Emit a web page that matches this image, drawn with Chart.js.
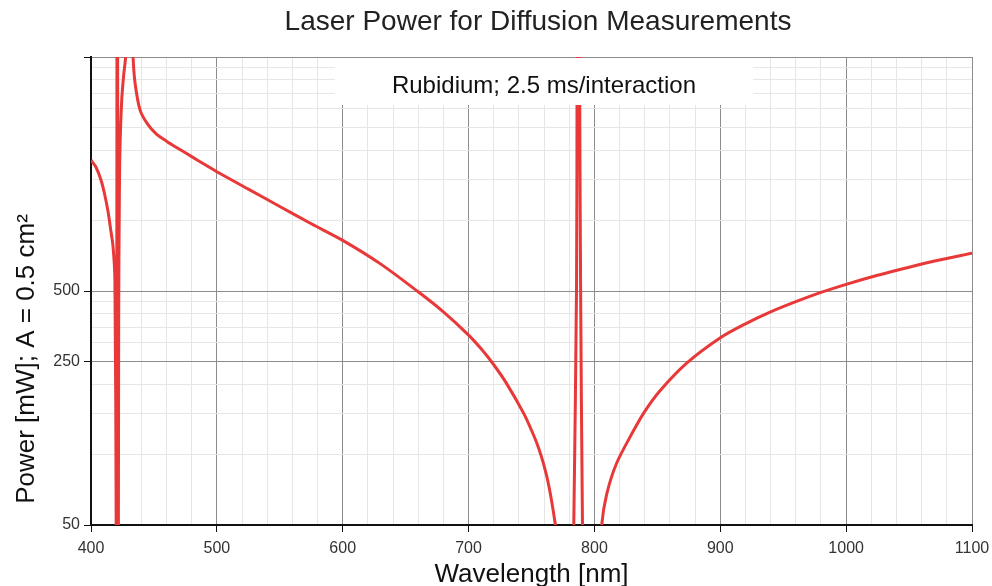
<!DOCTYPE html>
<html>
<head>
<meta charset="utf-8">
<title>Laser Power for Diffusion Measurements</title>
<script src="https://cdn.jsdelivr.net/npm/chart.js@4.4.1/dist/chart.umd.min.js"></script>
<style>
    html, body { margin: 0; padding: 0; background: #fff; }
    #wrap { position: relative; width: 992px; height: 586px; }
</style>
</head>
<body>
<div id="wrap"><canvas id="powerChart"></canvas></div>
<script>
// Wavelength [nm] and required power [mW].
// Values below 50 or above 5000 run off the plot and get clipped.
const wavelengths = [400, 404, 408, 411, 413.5, 415.5, 417.5, 419, 420, 420.3,
    420.9, 421.5, 422, 422.5, 423, 424.4, 426, 427.5, 429, 430.5,
    432, 433.4, 435, 439, 445, 452, 460, 470, 480, 490,
    500, 525, 550, 575, 600, 630, 660, 680, 700, 710,
    720, 730, 743.8, 750, 755, 759.7, 764, 769, 772, 776,
    781, 783.6, 785.8, 786.2, 787.2, 788.2, 789, 790.5, 793, 797,
    803, 805.8, 809.7, 817.7, 830.9, 840, 852.1, 873.3, 899.8, 920,
    940, 960, 980, 1000, 1025, 1050, 1075, 1100];
const powers = [1811, 1690, 1486, 1283, 1095, 926, 775, 555, 50, 5,
    1e6, 5, 400, 1200, 2000, 3270, 4200, 5000, 8000, 1e5,
    8000, 5000, 3870, 2965, 2582, 2340, 2184, 2022, 1876, 1741,
    1617, 1363, 1149, 969, 823, 653, 496, 407, 324, 283,
    242, 202, 150, 127, 109, 90.7, 72.5, 50, 37, 10,
    5, 50, 538, 5000, 1e6, 5000, 538, 50, 5, 3,
    25, 50, 67.6, 92, 126, 153, 187.5, 246, 315, 362,
    407, 450, 493, 534, 584, 632, 680, 726];

// Axis ticks
const xTickValues = [];
for (let v = 400; v <= 1100; v += 20) xTickValues.push(v);
const xLabelValues = [400, 500, 600, 700, 800, 900, 1000, 1100];
const yTickValues = [50, 100, 150, 200, 250, 300, 350, 400, 450, 500,
    1000, 1500, 2000, 2500, 3000, 3500, 4000, 4500, 5000];
const yLabelValues = [50, 250, 500];
const yMajorValues = [50, 250, 500, 5000];

const chartTitle = 'Laser Power for Diffusion Measurements';
const boxText = 'Rubidium; 2.5 ms/interaction';
const xTitle = 'Wavelength [nm]';
const yTitle = 'Power [mW]; A = 0.5 cm\u00B2';

const FONT = "'Liberation Sans', Arial, sans-serif";
const MAJOR_GRID = '#8c8c8c';
const MINOR_GRID = '#e6e6e6';

// Title, white label box at the top of the plot, rotated y title
const extraText = {
    id: 'extraText',
    afterDatasetsDraw(chart) {
        const { ctx, chartArea } = chart;
        ctx.save();
        ctx.fillStyle = '#fff';
        ctx.fillRect(chartArea.left + 244, chartArea.top + 1, 418, 47);
        ctx.fillStyle = '#111';
        ctx.font = '24px ' + FONT;
        ctx.textAlign = 'center';
        ctx.textBaseline = 'alphabetic';
        ctx.fillText(boxText, chartArea.left + 453, chartArea.top + 36);
        ctx.restore();
    },
    afterDraw(chart) {
        const ctx = chart.ctx;
        ctx.save();
        ctx.fillStyle = '#222';
        ctx.font = '28px ' + FONT;
        ctx.textAlign = 'center';
        ctx.textBaseline = 'alphabetic';
        ctx.fillText(chartTitle, 538, 30);

        ctx.translate(27, 359);
        ctx.rotate(-Math.PI / 2);
        ctx.fillStyle = '#111';
        ctx.font = '26px ' + FONT;
        ctx.textBaseline = 'middle';
        ctx.fillText(yTitle, 0, 0);
        ctx.restore();
    }
};

const ctx = document.getElementById('powerChart');

new Chart(ctx, {
    type: 'line',
    data: {
        datasets: [{
            data: wavelengths.map((w, i) => ({ x: w, y: powers[i] })),
            borderColor: 'rgb(232, 56, 56)',
            borderWidth: 3,
            pointRadius: 0,
            tension: 0.3,
            clip: 0
        }]
    },
    options: {
        responsive: true,
        maintainAspectRatio: false,
        animation: false,
        layout: {
            padding: { left: 0, right: 20, top: 57, bottom: 0 }
        },
        plugins: {
            legend: { display: false },
            tooltip: { enabled: false },
            title: { display: false }
        },
        scales: {
            x: {
                type: 'linear',
                min: 400,
                max: 1100,
                afterBuildTicks: s => { s.ticks = xTickValues.map(v => ({ value: v })); },
                afterFit: s => { s.height = 61; s.paddingLeft = 0; s.paddingRight = 0; },
                ticks: {
                    autoSkip: false,
                    maxRotation: 0,
                    padding: 7,
                    color: '#333',
                    font: { family: FONT, size: 16 },
                    callback: v => xLabelValues.includes(v) ? String(v) : ''
                },
                grid: {
                    color: c => c.tick && xLabelValues.includes(c.tick.value) ? MAJOR_GRID : MINOR_GRID,
                    tickColor: c => c.tick && xLabelValues.includes(c.tick.value) ? '#111' : 'rgba(0,0,0,0)',
                    tickLength: 7,
                    lineWidth: 1
                },
                border: { color: '#111', width: 2 },
                title: {
                    display: true,
                    text: xTitle,
                    color: '#111',
                    font: { family: FONT, size: 26, lineHeight: 0.85 },
                    padding: 0
                }
            },
            y: {
                type: 'logarithmic',
                min: 50,
                max: 5000,
                afterBuildTicks: s => { s.ticks = yTickValues.map(v => ({ value: v })); },
                afterFit: s => { s.width = 91; s.paddingTop = 0; s.paddingBottom = 0; },
                ticks: {
                    autoSkip: false,
                    padding: 4,
                    color: '#333',
                    font: { family: FONT, size: 16 },
                    callback: v => yLabelValues.includes(v) ? String(v) : ''
                },
                grid: {
                    color: c => c.tick && yMajorValues.includes(c.tick.value) ? MAJOR_GRID : MINOR_GRID,
                    tickColor: c => c.tick && yMajorValues.includes(c.tick.value) ? '#111' : 'rgba(0,0,0,0)',
                    tickLength: 7,
                    lineWidth: 1
                },
                border: { color: '#111', width: 2 }
            }
        }
    },
    plugins: [extraText]
});
</script>
</body>
</html>
